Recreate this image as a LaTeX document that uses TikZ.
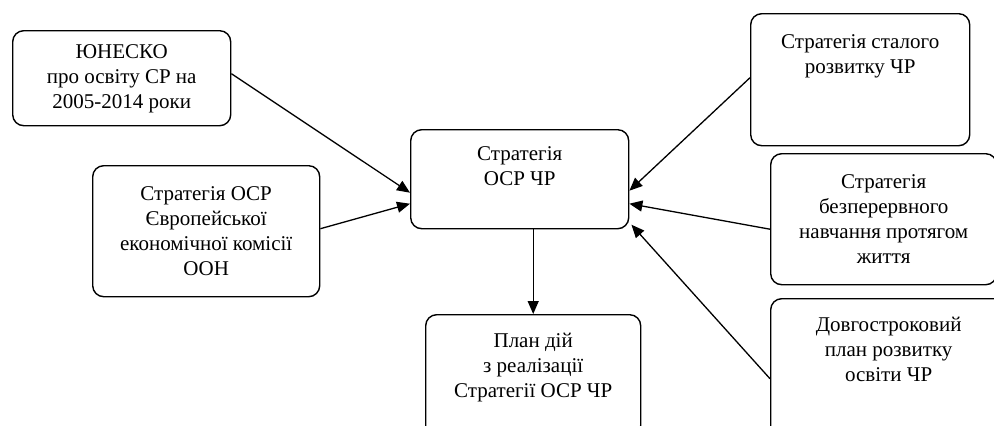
\documentclass[tikz,border=0pt]{standalone}
\usepackage{fontspec}
\setmainfont{Liberation Serif}
\usetikzlibrary{arrows.meta}
\tikzset{
  box/.style={draw, line width=1.4pt, rounded corners=11pt, inner sep=0pt},
  txt/.style={align=center, inner sep=0pt, font=\fontsize{21}{25}\selectfont},
  arr/.style={line width=1.3pt, -{Triangle[length=13pt,width=11pt]}}
}
\begin{document}
\begin{tikzpicture}[x=1pt,y=-1pt]
\useasboundingbox (0,0) rectangle (994,426);
\clip (0,0) rectangle (994,426);
% boxes
\node[box, anchor=north west, minimum width=218pt, minimum height=95pt] (a) at (12,30) {};
\node[box, anchor=north west, minimum width=227pt, minimum height=131pt] (b) at (92,165) {};
\node[box, anchor=north west, minimum width=218pt, minimum height=99pt] (c) at (410,129) {};
\node[box, anchor=north west, minimum width=215pt, minimum height=122pt] (d) at (425,314) {};
\node[box, anchor=north west, minimum width=219pt, minimum height=132pt] (r1) at (750,13) {};
\node[box, anchor=north west, minimum width=226pt, minimum height=131pt] (r2) at (770,153) {};
\node[box, anchor=north west, minimum width=236pt, minimum height=150pt] (r3) at (770,298) {};
% texts
\node[txt] (ta) at ([yshift=-1pt]a.center) {ЮНЕСКО\\про освіту СР на\\2005-2014 роки};
\node[txt] (tb) at (b.center) {Стратегія ОСР\\Європейської\\економічної комісії\\ООН};
\node[txt, anchor=north] (tc) at ([yshift=-17pt]c.north) {Стратегія\\ОСР ЧР};
\node[txt, anchor=north] (td) at ([yshift=-19pt]d.north) {План дій\\з реалізації\\Стратегії ОСР ЧР};
\node[txt, anchor=north] (tr1) at ([yshift=-21pt]r1.north) {Стратегія сталого\\розвитку ЧР};
\node[txt, anchor=north] (tr2) at ([yshift=-21pt]r2.north) {Стратегія\\безперервного\\навчання протягом\\життя};
\node[txt, anchor=north] (tr3) at ([yshift=-19pt]r3.north) {Довгостроковий\\план розвитку\\освіти ЧР};
% connectors
\draw[arr] ([yshift=4.5pt]a.east) -- ([yshift=-13.5pt]c.west);
\draw[arr] ([yshift=2.5pt]b.east) -- ([yshift=-24.5pt]c.west);
\draw[arr] ([yshift=2pt]r1.west) -- ([yshift=-11.5pt]c.east);
\draw[arr] ([yshift=-10pt]r2.west) -- ([yshift=-24.5pt]c.east);
\draw[arr] ([yshift=-5pt]r3.west) -- ([shift={(2pt,-45.5pt)}]c.east);
\draw[arr] (c.south -| d.north) -- (d.north);
\end{tikzpicture}
\end{document}
